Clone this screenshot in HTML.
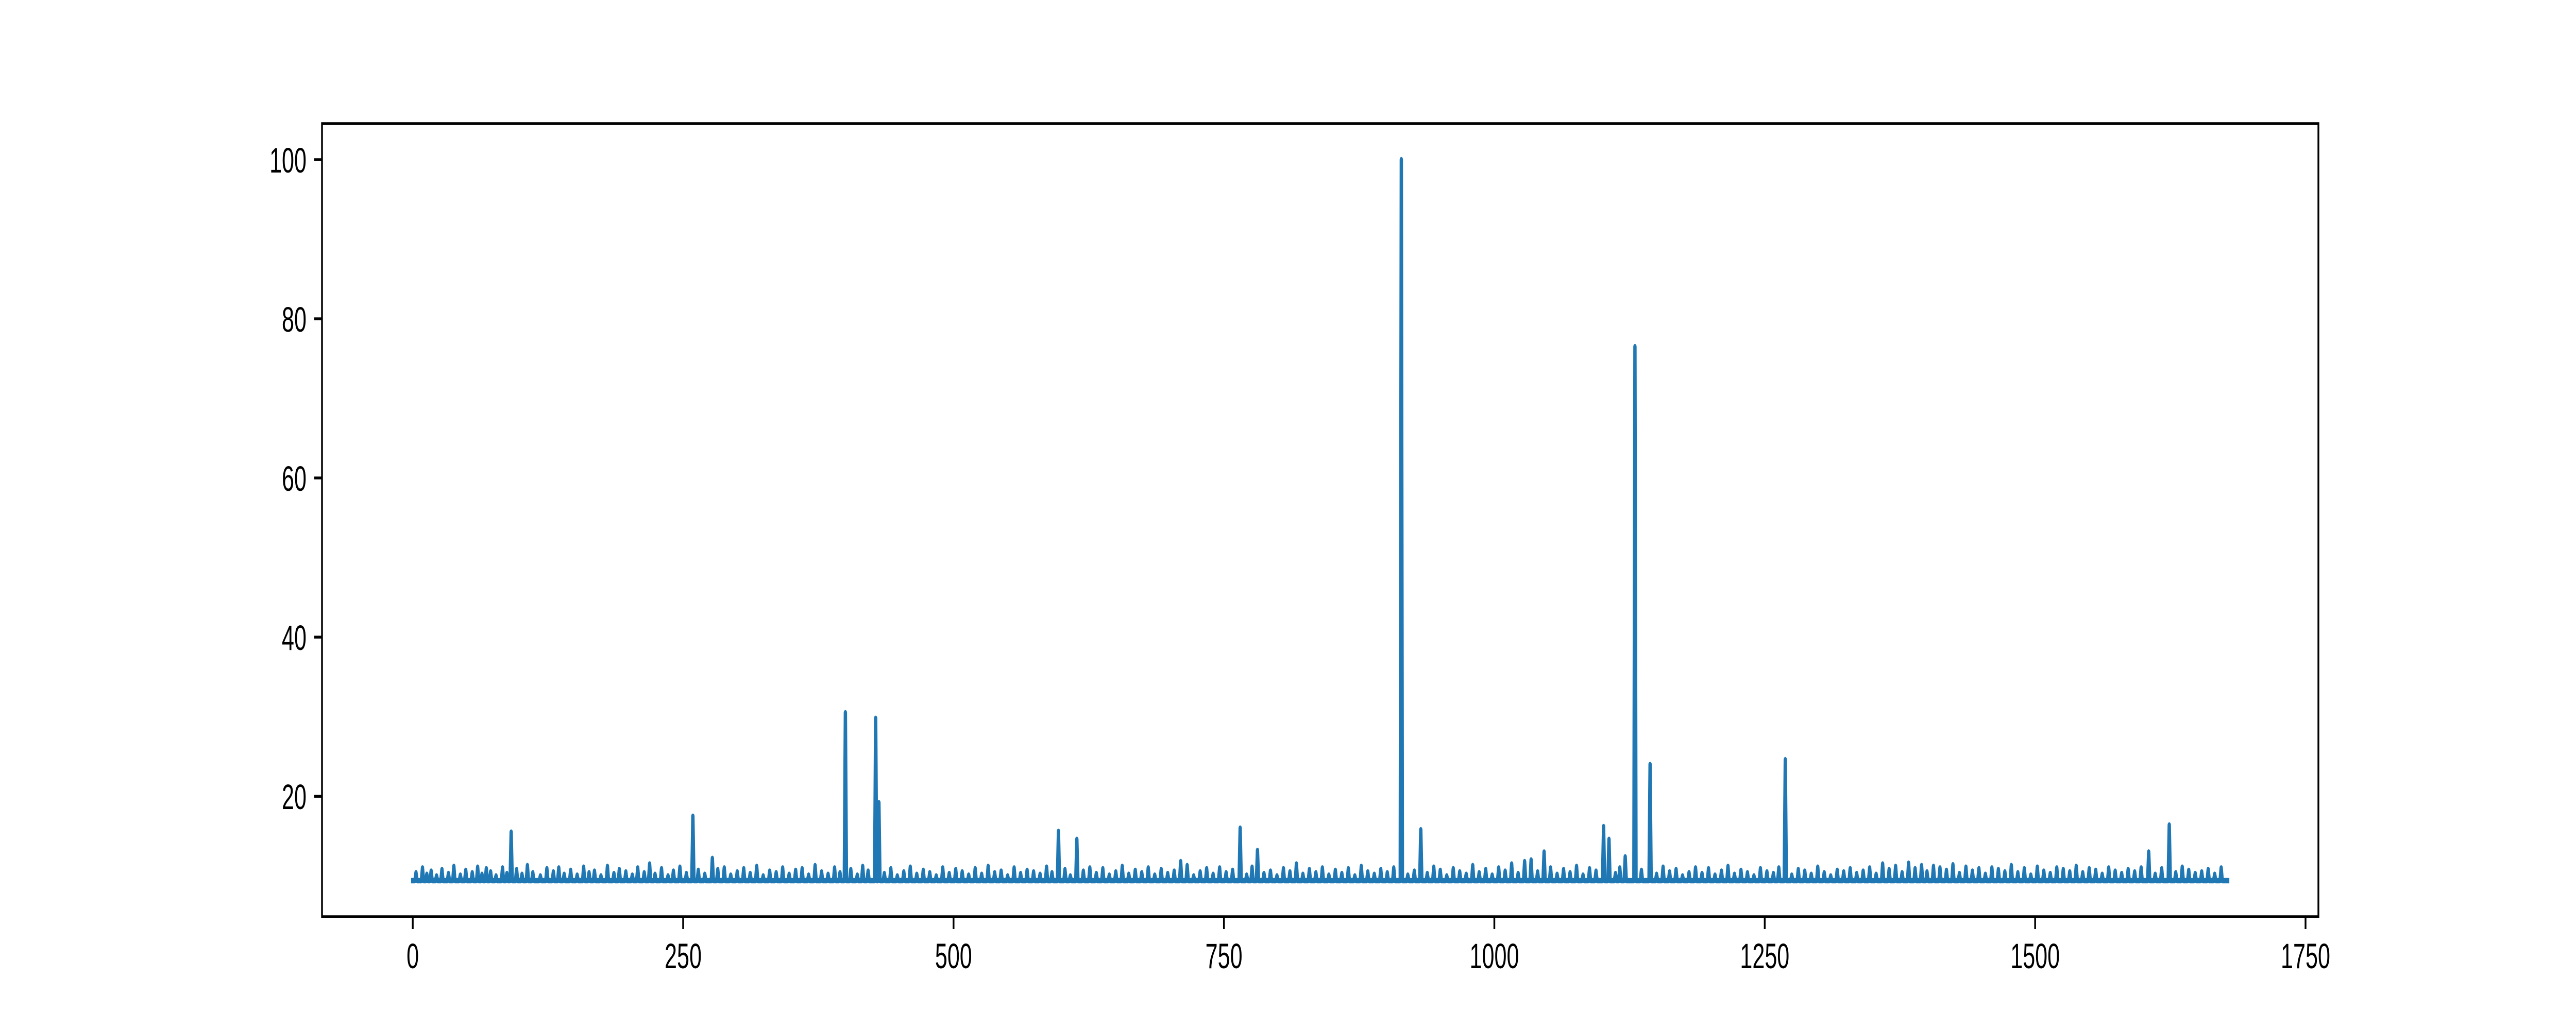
<!DOCTYPE html>
<html><head><meta charset="utf-8"><style>
html,body{margin:0;padding:0;background:#fff;width:100%;height:100%;overflow:hidden;}
svg{display:block;width:100vw;height:100vh;}
text{font-family:"Liberation Sans","DejaVu Sans",sans-serif;font-size:69px;fill:#000;}
</style></head>
<body>
<svg id="chart" viewBox="0 0 8000 2000" preserveAspectRatio="none" xmlns="http://www.w3.org/2000/svg">
<rect x="0" y="0" width="8000" height="2000" fill="#fff"/>
<g id="plot"></g>
</svg>
<script>
const nPoints = 1679;
const baseValue = 9.4;
const xTicks = [0,250,500,750,1000,1250,1500,1750];
const yTicks = [20,40,60,80,100];
const spikeIdx = [91,259,277,400,428,431,597,614,710,765,781,914,932,1046,1101,1106,1121,1130,1144,1269,1406,1605,1624];
const spikeVal = [15.5,17.5,12.2,30.5,29.8,19.2,15.6,14.6,11.8,16.0,13.2,100,15.8,13.0,16.2,14.6,12.4,76.5,24.0,24.6,11.2,13.0,16.4];
const bumpIdx = [3,9,13,17,22,27,33,38,44,49,55,60,64,68,72,77,83,87,96,101,106,111,118,124,130,135,140,146,152,158,163,168,174,180,186,191,197,203,208,214,219,224,230,236,241,247,253,264,270,282,288,294,300,306,312,318,324,330,336,342,348,354,360,366,372,378,384,390,395,405,411,416,421,436,442,448,454,460,466,472,478,484,490,496,502,508,514,520,526,532,538,544,550,556,562,568,574,580,586,591,603,608,620,626,632,638,644,650,656,662,668,674,680,686,692,698,704,716,722,728,734,740,746,752,758,771,776,787,793,799,805,811,817,823,829,835,841,847,853,859,865,871,877,883,889,895,901,907,920,926,938,944,950,956,962,968,974,980,986,992,998,1004,1010,1016,1022,1028,1034,1040,1052,1058,1064,1070,1076,1082,1088,1094,1112,1116,1136,1150,1156,1162,1168,1174,1180,1186,1192,1198,1204,1210,1216,1222,1228,1234,1240,1246,1252,1258,1263,1275,1281,1287,1293,1299,1305,1311,1317,1323,1329,1335,1341,1347,1353,1359,1365,1371,1377,1383,1389,1395,1400,1412,1418,1424,1430,1436,1442,1448,1454,1460,1466,1472,1478,1484,1490,1496,1502,1508,1514,1520,1526,1532,1538,1544,1550,1556,1562,1568,1574,1580,1586,1592,1598,1611,1617,1630,1636,1642,1648,1654,1660,1666,1672];
const bumpVal = [10.4,11.0,10.2,10.6,10.0,10.8,10.3,11.2,10.1,10.7,10.4,11.1,10.2,10.9,10.5,10.0,11.0,10.3,10.8,10.2,11.3,10.4,10.0,10.9,10.5,11.0,10.2,10.7,10.1,11.1,10.4,10.6,10.0,11.2,10.3,10.8,10.5,10.1,11.0,10.4,11.5,10.2,10.9,10.0,10.6,11.1,10.3,10.7,10.2,10.8,11.0,10.1,10.5,10.9,10.3,11.2,10.0,10.6,10.4,11.0,10.2,10.7,10.9,10.1,11.3,10.5,10.2,11.0,10.4,10.8,10.1,11.2,10.6,10.3,10.9,10.0,10.5,11.1,10.2,10.7,10.4,10.0,11.0,10.3,10.8,10.5,10.1,10.9,10.2,11.2,10.4,10.6,10.0,11.0,10.3,10.7,10.5,10.2,11.1,10.4,10.8,10.0,10.6,11.0,10.3,10.9,10.1,10.5,11.2,10.2,10.7,10.4,11.0,10.1,10.8,10.3,10.6,11.3,10.0,10.5,10.9,10.2,11.0,10.4,10.7,10.1,11.1,10.3,10.6,10.0,10.9,10.5,11.5,10.2,10.8,10.4,11.0,10.1,10.7,10.3,10.9,10.0,11.2,10.5,10.2,10.8,10.4,11.0,10.1,10.6,10.3,11.1,10.7,10.0,10.9,10.5,10.2,11.3,10.4,10.8,10.1,11.0,10.6,11.5,10.3,11.8,12.0,10.5,11.0,10.2,10.8,10.4,11.2,10.1,10.9,10.6,10.3,11.0,10.7,10.2,11.1,10.5,10.8,10.0,10.4,11.0,10.3,10.9,10.1,10.6,11.2,10.2,10.7,10.4,10.0,10.9,10.5,10.3,11.0,10.1,10.8,10.6,10.2,11.1,10.4,10.0,10.7,10.5,10.9,10.3,10.6,11.0,10.2,11.5,10.8,11.2,10.4,11.6,10.9,11.3,10.5,11.0,10.7,11.4,10.3,11.1,10.6,10.9,10.2,11.0,10.8,10.5,11.3,10.4,10.9,10.1,11.1,10.6,10.3,11.0,10.8,10.5,11.2,10.4,10.9,10.7,10.2,11.0,10.6,10.3,10.8,10.5,11.0,10.2,10.9,10.4,11.1,10.7,10.3,10.5,10.8,10.2,11.0,10.6,10.4];

const values = [];
for (let i = 0; i < nPoints; i++) values.push(baseValue);
bumpIdx.forEach((k, j) => { if (k < nPoints && j < bumpVal.length && isFinite(bumpVal[j])) values[k] = bumpVal[j]; });
spikeIdx.forEach((k, j) => { if (k < nPoints && j < spikeVal.length && isFinite(spikeVal[j])) values[k] = spikeVal[j]; });
for (let i = 0; i < nPoints; i++) if (!isFinite(values[i])) values[i] = baseValue;

const L = 1000, R = 7200, T = 240, B = 1780;
let ymin0 = Infinity, ymax0 = -Infinity;
values.forEach(v => { if (v < ymin0) ymin0 = v; if (v > ymax0) ymax0 = v; });
const yr = ymax0 - ymin0;
const ymin = ymin0 - 0.05 * yr, ymax = ymax0 + 0.05 * yr;
const xmin = -0.05 * (nPoints - 1), xmax = (nPoints - 1) * 1.05;
const xs = v => L + (v - xmin) / (xmax - xmin) * (R - L);
const ys = v => B - (v - ymin) / (ymax - ymin) * (B - T);

const NS = "http://www.w3.org/2000/svg";
const g = document.getElementById("plot");
function mk(tag, attrs) {
  const e = document.createElementNS(NS, tag);
  for (const k in attrs) e.setAttribute(k, attrs[k]);
  return e;
}

let d = "";
values.forEach((v, i) => { d += (i ? "L" : "M") + xs(i).toFixed(2) + " " + ys(v).toFixed(2); });
const line = mk("path", {d: d, fill: "none", stroke: "#1f77b4", "stroke-width": 10.4, "stroke-linejoin": "round", "stroke-linecap": "square"});


g.appendChild(line);

xTicks.forEach(t => {
  const x = xs(t);
  const tk = mk("line", {x1: x, y1: B, x2: x, y2: B + 24, stroke: "#000", "stroke-width": 5.5});
  
  
  g.appendChild(tk);
  const lb = mk("text", {x: x, y: B + 24 + 24 + 52, "text-anchor": "middle"});
  lb.textContent = t;
  
  
  g.appendChild(lb);
});
yTicks.forEach(t => {
  const y = ys(t);
  const tk = mk("line", {x1: L - 24, y1: y, x2: L, y2: y, stroke: "#000", "stroke-width": 5.5});
  
  
  g.appendChild(tk);
  const lb = mk("text", {x: L - 24 - 24, y: y + 25, "text-anchor": "end"});
  lb.textContent = t;
  
  
  g.appendChild(lb);
});

const frame = mk("rect", {x: L, y: T, width: R - L, height: B - T, fill: "none", stroke: "#000", "stroke-width": 5.5});


g.appendChild(frame);
</script>
</body></html>
